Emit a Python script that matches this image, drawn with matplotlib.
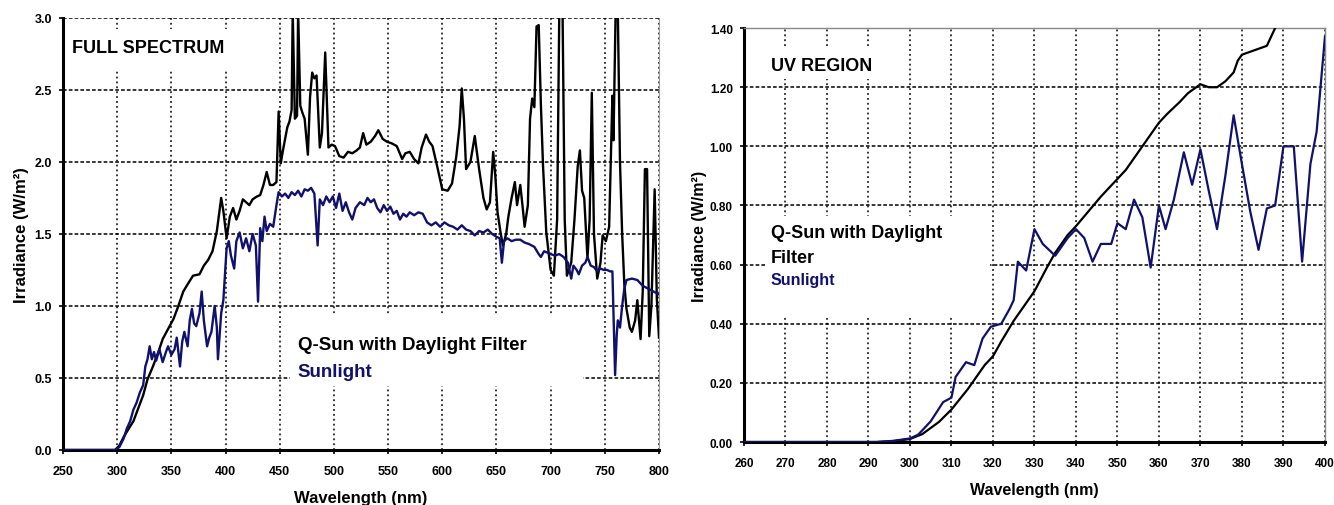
import numpy as np
import matplotlib
matplotlib.use('Agg')
import matplotlib.pyplot as plt
from matplotlib.patches import Rectangle

plt.rcParams['font.family'] = ['Liberation Sans', 'DejaVu Sans']
plt.rcParams['font.weight'] = 'bold'

navy = '#10106e'

# ---- full spectrum, Q-Sun with daylight filter (black)
full_wl_qsun = [250, 270, 290, 298, 302, 306, 310, 315, 320, 324,
                328, 333, 338, 342, 347, 352, 356, 361, 365, 370,
                376, 380, 384, 388, 392, 396, 398, 401, 404, 407,
                410, 413, 416, 419, 422, 425, 429, 432, 435, 438,
                441, 444, 447, 449, 451, 453, 455, 457, 459, 461,
                462, 464, 466, 467, 469, 471, 473, 476, 478, 480,
                482, 484, 487, 489, 492, 495, 498, 501, 505, 509,
                513, 517, 521, 524, 527, 530, 534, 538, 541, 545,
                549, 553, 558, 563, 566, 570, 574, 578, 581, 585,
                588, 591, 595, 600, 605, 609, 613, 616, 618, 620,
                622, 626, 630, 634, 638, 641, 644, 647, 649, 651,
                654, 656, 659, 661, 664, 667, 669, 672, 674, 676,
                679, 681, 683, 685, 687, 689, 691, 693, 696, 700,
                703, 706, 708, 711, 713, 715, 719, 722, 725, 727,
                729, 731, 734, 736, 738, 740, 743, 746, 748, 751,
                754, 757, 758, 760, 762, 764, 766, 768, 770, 773,
                775, 778, 780, 783, 785, 787, 789, 791, 793, 796,
                798, 800]
full_irr_qsun = [0.0, 0.0, 0.0, 0.0, 0.03, 0.09, 0.14, 0.20, 0.30, 0.38,
                 0.49, 0.58, 0.68, 0.77, 0.84, 0.91, 0.99, 1.10, 1.15, 1.21,
                 1.22, 1.28, 1.32, 1.38, 1.52, 1.75, 1.66, 1.47, 1.62, 1.68,
                 1.60, 1.66, 1.74, 1.72, 1.70, 1.74, 1.76, 1.77, 1.84, 1.93,
                 1.84, 1.84, 1.86, 2.35, 1.99, 2.08, 2.16, 2.24, 2.28, 2.36,
                 3.05, 2.30, 2.32, 3.05, 2.39, 2.34, 2.30, 2.05, 2.45, 2.62,
                 2.58, 2.60, 2.10, 2.20, 2.76, 2.10, 2.12, 2.11, 2.04, 2.03,
                 2.07, 2.06, 2.08, 2.10, 2.20, 2.12, 2.14, 2.18, 2.22, 2.16,
                 2.14, 2.13, 2.11, 2.02, 2.06, 2.07, 2.02, 1.99, 2.10, 2.19,
                 2.14, 2.11, 1.98, 1.81, 1.80, 1.85, 2.04, 2.25, 2.51, 2.30,
                 1.95, 2.00, 2.18, 1.95, 1.75, 1.67, 1.72, 2.07, 1.90, 1.65,
                 1.50, 1.42, 1.50, 1.62, 1.75, 1.86, 1.70, 1.84, 1.70, 1.55,
                 1.70, 2.30, 2.44, 2.38, 2.94, 2.95, 2.40, 1.97, 1.51, 1.25,
                 1.21, 1.60, 3.05, 3.05, 1.60, 1.21, 1.30, 1.60, 1.97, 2.08,
                 1.80, 1.75, 1.33, 1.60, 2.48, 1.50, 1.19, 1.30, 1.49, 1.45,
                 1.55, 2.46, 2.15, 3.05, 3.05, 2.00, 1.50, 1.15, 0.98, 0.85,
                 0.82, 0.90, 1.04, 0.77, 1.10, 1.95, 1.95, 0.79, 1.00, 1.81,
                 1.05, 0.78]

# ---- full spectrum, sunlight (navy)
full_wl_sun = [250, 290, 298, 302, 306, 309, 312, 315, 318, 321,
               324, 326, 328, 330, 332, 334, 336, 339, 342, 345,
               347, 350, 353, 355, 358, 360, 362, 365, 367, 369,
               371, 373, 376, 378, 380, 383, 385, 387, 390, 392,
               393, 396, 398, 401, 403, 405, 408, 410, 413, 416,
               419, 422, 425, 428, 430, 432, 434, 436, 438, 441,
               444, 447, 449, 452, 455, 458, 461, 464, 467, 470,
               473, 476, 479, 482, 485, 487, 490, 493, 496, 499,
               502, 505, 508, 511, 514, 517, 520, 524, 528, 531,
               534, 537, 540, 543, 546, 549, 552, 555, 558, 561,
               564, 567, 570, 574, 578, 582, 586, 590, 594, 598,
               602, 606, 610, 614, 618, 622, 626, 630, 634, 638,
               642, 646, 650, 653, 655, 657, 660, 664, 668, 672,
               676, 680, 685, 689, 691, 694, 697, 700, 704, 708,
               712, 716, 719, 721, 724, 726, 729, 732, 734, 737,
               740, 743, 746, 749, 752, 755, 757, 758, 759.5, 761,
               762, 764, 766, 768, 770, 775, 780, 785, 790, 795,
               800]
full_irr_sun = [0.0, 0.0, 0.0, 0.02, 0.08, 0.15, 0.20, 0.28, 0.33, 0.40,
                0.45, 0.58, 0.63, 0.72, 0.63, 0.68, 0.62, 0.70, 0.61, 0.68,
                0.72, 0.66, 0.70, 0.78, 0.58, 0.75, 0.82, 0.72, 0.90, 0.98,
                0.88, 0.86, 0.95, 1.10, 0.90, 0.72, 0.78, 0.82, 1.00, 0.85,
                0.63, 0.95, 1.04, 1.40, 1.45, 1.35, 1.26, 1.45, 1.51, 1.40,
                1.47, 1.38, 1.50, 1.42, 1.03, 1.54, 1.45, 1.62, 1.52, 1.57,
                1.55, 1.70, 1.79, 1.76, 1.78, 1.75, 1.79, 1.77, 1.80, 1.76,
                1.81, 1.80, 1.82, 1.78, 1.42, 1.74, 1.70, 1.76, 1.72, 1.76,
                1.68, 1.78, 1.66, 1.72, 1.65, 1.60, 1.68, 1.72, 1.70, 1.75,
                1.72, 1.74, 1.68, 1.65, 1.70, 1.66, 1.69, 1.64, 1.66, 1.60,
                1.64, 1.62, 1.65, 1.63, 1.65, 1.64, 1.58, 1.56, 1.58, 1.55,
                1.58, 1.56, 1.55, 1.53, 1.56, 1.53, 1.52, 1.49, 1.52, 1.51,
                1.53, 1.50, 1.48, 1.47, 1.30, 1.45, 1.47, 1.45, 1.46, 1.46,
                1.44, 1.43, 1.41, 1.36, 1.34, 1.38, 1.37, 1.36, 1.35, 1.36,
                1.34, 1.30, 1.19, 1.28, 1.25, 1.22, 1.28, 1.30, 1.34, 1.28,
                1.27, 1.24, 1.26, 1.25, 1.25, 1.24, 1.24, 0.95, 0.52, 0.80,
                0.90, 0.85, 1.00, 1.12, 1.18, 1.19, 1.18, 1.14, 1.12, 1.10,
                1.08]

# ---- UV region
uv_wl_qsun = [260, 280, 292, 296, 300, 303, 307, 310, 314, 318,
              320, 322, 325, 328, 330, 333, 335, 338, 340, 343,
              346, 348, 350, 352, 355, 357, 360, 362, 365, 367,
              369, 370, 372, 374, 376, 378, 379, 380, 382, 384,
              386, 388, 390]
uv_irr_qsun = [0.0, 0.0, 0.0, 0.003, 0.01, 0.027, 0.068, 0.11, 0.18, 0.26,
               0.29, 0.34, 0.41, 0.47, 0.51, 0.59, 0.64, 0.70, 0.73, 0.78,
               0.83, 0.86, 0.89, 0.92, 0.98, 1.02, 1.08, 1.11, 1.15, 1.18,
               1.20, 1.21, 1.20, 1.20, 1.22, 1.25, 1.29, 1.31, 1.32, 1.33,
               1.34, 1.40, 1.46]

uv_wl_sun = [260, 280, 292, 296, 300, 302, 305, 308, 310, 311,
             313.5, 315.5, 317.5, 319.5, 322, 324, 325, 326, 328, 330,
             332, 335, 338, 340, 342, 344, 346, 348.5, 350, 352,
             354, 356, 358, 360, 361.6, 363.6, 366, 368, 370, 372,
             374, 376, 378, 380, 382, 384, 386, 388, 390, 392.5,
             394.5, 396.5, 398, 400]
uv_irr_sun = [0.0, 0.0, 0.0, 0.004, 0.012, 0.025, 0.07, 0.135, 0.15, 0.22,
              0.27, 0.26, 0.35, 0.39, 0.40, 0.45, 0.48, 0.61, 0.58, 0.72,
              0.67, 0.63, 0.69, 0.72, 0.69, 0.61, 0.67, 0.67, 0.74, 0.72,
              0.82, 0.76, 0.59, 0.80, 0.72, 0.82, 0.98, 0.87, 0.99, 0.85,
              0.72, 0.90, 1.105, 0.94, 0.78, 0.65, 0.79, 0.80, 1.00, 1.00,
              0.61, 0.94, 1.05, 1.37]

full_xticks = np.arange(250, 801, 50)
full_yticks = np.arange(0, 3.01, 0.5)
uv_xticks = np.arange(260, 401, 10)
uv_yticks = np.arange(0, 1.41, 0.2)

fig = plt.figure(figsize=(13.34, 5.06), dpi=100)
ax1 = fig.add_axes([0.0472, 0.1087, 0.4468, 0.854])
ax2 = fig.add_axes([0.5577, 0.1245, 0.4355, 0.818])


def style_axes(ax, xticks, yticks, yfmt, tick_fs, xpad):
    ax.set_xticks(xticks)
    ax.set_yticks(yticks)
    ax.set_yticklabels([yfmt % v for v in yticks])
    ax.set_axisbelow(True)
    ax.grid(True, axis='x', color='black', lw=1.1, ls=(0, (1.2, 2.0)))
    ax.grid(True, axis='y', color='black', lw=1.1, ls=(0, (2.4, 1.4)))
    ax.tick_params(direction='out', length=3, width=1.2, labelsize=tick_fs, pad=5)
    ax.tick_params(axis='x', pad=xpad)
    for lab in ax.get_xticklabels() + ax.get_yticklabels():
        lab.set_fontweight('bold')
    ax.spines['left'].set_linewidth(2.2)
    ax.spines['bottom'].set_linewidth(2.2)


# left panel
ax1.plot(full_wl_qsun, full_irr_qsun, color='black', lw=1.7, zorder=3)
ax1.plot(full_wl_sun, full_irr_sun, color=navy, lw=1.7, zorder=3)
ax1.set_xlim(250, 800)
ax1.set_ylim(0, 3.0)
style_axes(ax1, full_xticks, full_yticks, '%.1f', 9, 8)
ax1.spines['top'].set_visible(False)
ax1.spines['right'].set_color('#999999')
ax1.spines['right'].set_linewidth(0.8)
ax1.add_patch(Rectangle((0.0, 0.882), 0.29, 0.093, transform=ax1.transAxes,
                        facecolor='white', edgecolor='none', zorder=1.5))
ax1.add_patch(Rectangle((0.381, 0.148), 0.491, 0.162, transform=ax1.transAxes,
                        facecolor='white', edgecolor='none', zorder=1.5))
ax1.text(0.015, 0.921, 'FULL SPECTRUM', transform=ax1.transAxes, fontsize=13,
         fontweight='bold', va='baseline', zorder=4)
ax1.text(0.394, 0.234, 'Q-Sun with Daylight Filter', transform=ax1.transAxes,
         fontsize=13.5, fontweight='bold', va='baseline', zorder=4)
ax1.text(0.394, 0.171, 'Sunlight', transform=ax1.transAxes, color=navy,
         fontsize=13.5, fontweight='bold', va='baseline', zorder=4)
ax1.set_xlabel('Wavelength (nm)', fontsize=12, fontweight='bold', labelpad=9)
ax1.set_ylabel('Irradiance (W/m²)', fontsize=12, fontweight='bold', labelpad=4)

# right panel
ax2.plot(uv_wl_qsun, uv_irr_qsun, color='black', lw=1.6, zorder=3)
ax2.plot(uv_wl_sun, uv_irr_sun, color=navy, lw=1.6, zorder=3)
ax2.set_xlim(260, 400)
ax2.set_ylim(0, 1.4)
style_axes(ax2, uv_xticks, uv_yticks, '%.2f', 8.5, 8)
for s in ['top', 'right']:
    ax2.spines[s].set_color('#888888')
    ax2.spines[s].set_linewidth(1.0)
ax2.add_patch(Rectangle((0.0, 0.877), 0.234, 0.072, transform=ax2.transAxes,
                        facecolor='white', edgecolor='none', zorder=1.5))
ax2.add_patch(Rectangle((0.036, 0.304), 0.387, 0.242, transform=ax2.transAxes,
                        facecolor='white', edgecolor='none', zorder=1.5))
ax2.text(0.0465, 0.899, 'UV REGION', transform=ax2.transAxes, fontsize=13,
         fontweight='bold', va='baseline', zorder=4)
ax2.text(0.0465, 0.495, 'Q-Sun with Daylight', transform=ax2.transAxes,
         fontsize=13, fontweight='bold', va='baseline', zorder=4)
ax2.text(0.0465, 0.435, 'Filter', transform=ax2.transAxes,
         fontsize=13, fontweight='bold', va='baseline', zorder=4)
ax2.text(0.0465, 0.382, 'Sunlight', transform=ax2.transAxes, color=navy,
         fontsize=11.5, fontweight='bold', va='baseline', zorder=4)
ax2.set_xlabel('Wavelength (nm)', fontsize=11.5, fontweight='bold', labelpad=9)
ax2.set_ylabel('Irradiance (W/m²)', fontsize=11.5, fontweight='bold', labelpad=2)

plt.savefig('out.png', dpi=100)
